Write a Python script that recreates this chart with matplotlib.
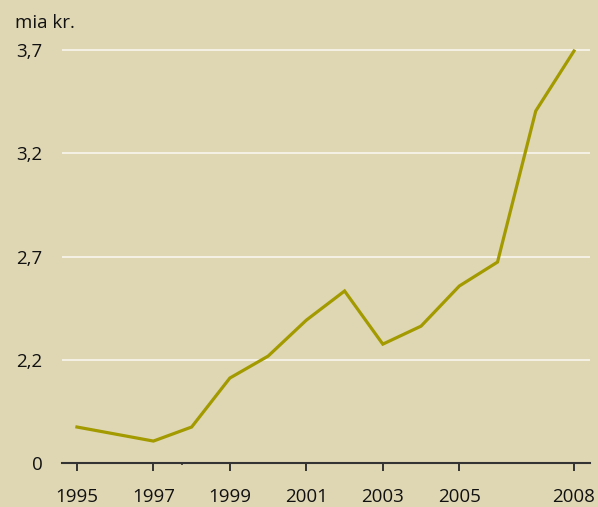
import matplotlib.pyplot as plt

# Values (mia kr.). The axis is broken: "0" sits at 1.7.
years = [1995, 1996, 1997, 1998, 1999, 2000, 2001, 2002, 2003, 2004, 2005, 2006, 2007, 2008]
values = [1.876, 1.842, 1.808, 1.876, 2.113, 2.219, 2.393, 2.534, 2.277, 2.364, 2.558, 2.674, 3.405, 3.695]

ytick_pos = [1.7, 2.2, 2.7, 3.2, 3.7]
ytick_labels = ['0', '2,2', '2,7', '3,2', '3,7']
xtick_years = [1995, 1997, 1999, 2001, 2003, 2005, 2008]

bg = '#DFD7B4'
line_color = '#A39A00'

plt.rcParams['font.family'] = ['Open Sans', 'DejaVu Sans']

fig = plt.figure(figsize=(5.98, 5.07), dpi=100, facecolor=bg)
ax = fig.add_axes([0.1037, 0.086, 0.883, 0.835], facecolor=bg)

# white gridlines (not at the zero line)
for y in ytick_pos[1:]:
    ax.axhline(y, color='#F7F3EA', lw=1.3, zorder=1)

ax.plot(years, values, color=line_color, lw=2.3, zorder=3, solid_joinstyle='miter')

ax.set_xlim(1994.61, 2008.42)
ax.set_ylim(1.7, 3.748)

ax.set_yticks(ytick_pos)
ax.set_yticklabels(ytick_labels)
ax.set_xticks(xtick_years)
ax.set_xticklabels([str(y) for y in xtick_years])
ax.set_xticks([1997.75], minor=True)

ax.tick_params(axis='y', length=0, pad=14, labelsize=13.5, labelcolor='#111111')
ax.tick_params(axis='x', which='major', length=6, width=1.4, color='#333333',
               pad=12, labelsize=13.5, labelcolor='#111111')
ax.tick_params(axis='x', which='minor', length=1.5, width=1.2, color='#333333')

for s in ['top', 'right', 'left']:
    ax.spines[s].set_visible(False)
ax.spines['bottom'].set_color('#333333')
ax.spines['bottom'].set_linewidth(1.5)

fig.text(15 / 598, 1 - 23 / 507, 'mia kr.', fontsize=13.5, color='#111111',
         ha='left', va='center')

fig.savefig('out.png', dpi=100, facecolor=bg)
